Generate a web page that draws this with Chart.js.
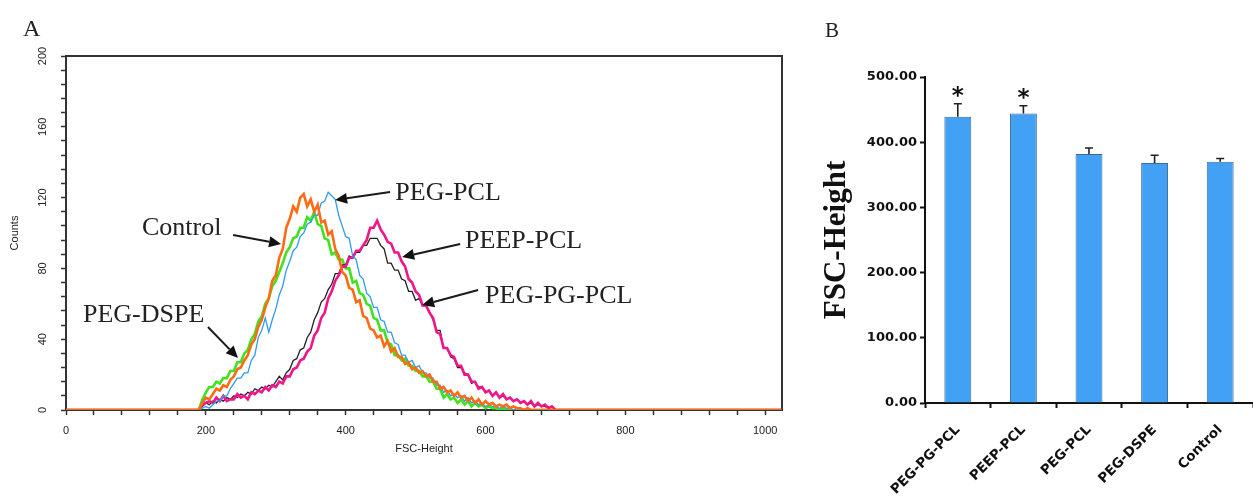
<!DOCTYPE html>
<html><head><meta charset="utf-8">
<script src="https://cdn.jsdelivr.net/npm/chart.js@4/dist/chart.umd.min.js"></script>
<style>
html,body{margin:0;padding:0;background:#fff;width:1253px;height:500px;overflow:hidden;position:relative}
#wa{position:absolute;left:0;top:0;width:800px;height:500px}
#wb{position:absolute;left:800px;top:0;width:453px;height:500px}
.pl{position:absolute;font-family:'Liberation Serif';color:#222;line-height:1}
</style></head><body>
<div id="wa"><canvas id="ca" width="800" height="500"></canvas></div>
<div id="wb"><canvas id="cb" width="453" height="500"></canvas></div>
<div class="pl" style="left:23px;top:16px;font-size:24px">A</div>
<div class="pl" style="left:825px;top:20px;font-size:21px">B</div>
<script>
// ---------- Panel A data (FSC-Height histogram) ----------
const channels = [0,190,195,200,205,210,215,220,225,230,235,240,245,250,255,260,265,270,275,280,285,290,295,300,305,310,315,320,325,330,335,340,345,350,355,360,365,370,375,380,385,390,395,400,405,410,415,420,425,430,435,440,445,450,455,460,465,470,475,480,485,490,495,500,505,510,515,520,525,530,535,540,545,550,555,560,565,570,575,580,585,590,595,600,605,610,615,620,625,630,635,640,645,650,655,660,665,670,675,680,685,690,695,700,1023];
const controlCounts = [0,
 0,4,7,6,9,12,11,14,13,17,
 19,23,24,28,31,37,40,47,51,58,
 63,73,76,86,91,103,108,115,112,120,
 122,115,119,112,116,106,107,99,101,91,
 87,78,76,69,68,61,62,53,52,46,
 45,41,42,36,39,33,35,30,30,26,
 27,23,24,21,22,19,20,16,16,12,
 13,10,11,8,10,7,8,5,7,4,
 6,3,5,3,4,2,3,2,3,1,
 2,1,1,0,1,0,0,0,0,0,
 0,0,0, 0];
const pegDspeCounts = [0,
 0,6,10,13,13,16,15,18,18,22,
 22,27,27,32,34,40,43,50,53,60,
 63,70,73,78,83,89,92,97,98,103,
 103,109,107,112,105,104,97,96,88,89,
 85,85,80,80,72,73,66,65,60,59,
 52,51,45,45,38,37,31,31,28,29,
 25,25,22,22,19,19,16,16,12,12,
 7,9,6,7,4,6,3,5,2,4,
 2,3,1,2,1,1,0,1,0,0,
 0,0,0,0,0,0,0,0,0,0,
 0,0,0, 0];
const pegPclCounts = [0,
 0,1,2,1,3,5,5,8,8,12,
 15,18,18,21,21,28,31,41,45,52,
 44,51,57,65,70,79,84,90,92,98,
 100,105,106,110,110,117,118,123,121,119,
 110,104,98,97,87,85,76,74,66,64,
 58,58,51,50,44,44,38,37,31,31,
 27,28,24,25,21,21,18,18,14,14,
 10,11,8,9,7,8,5,7,4,5,
 3,4,2,3,2,2,1,2,1,1,
 0,1,0,0,0,0,0,0,0,0,
 0,0,0, 0];
const pegPgPclCounts = [0,
 0,3,4,5,4,7,5,8,5,6,
 6,9,7,8,6,10,9,11,10,13,
 11,14,13,16,15,19,19,23,24,28,
 29,33,35,42,45,52,55,63,67,73,
 76,81,81,86,86,90,90,93,96,103,
 103,107,102,99,95,94,89,89,84,81,
 74,72,67,65,59,59,55,52,44,43,
 35,35,31,30,25,25,20,20,16,16,
 12,13,10,11,8,10,7,9,6,7,
 5,6,4,5,3,5,2,4,2,3,
 1,2,0, 0];
const peepPclCounts = [0,
 0,2,4,3,5,4,6,5,7,6,
 8,7,9,8,10,9,12,11,13,12,
 14,13,16,19,17,21,23,28,29,34,
 35,41,44,51,55,61,63,68,71,77,
 77,82,82,87,86,89,89,93,93,97,
 97,97,93,91,83,83,79,79,74,73,
 67,67,62,63,59,59,55,51,45,45,
 35,35,30,29,24,24,21,20,15,16,
 13,13,10,11,8,10,7,8,6,7,
 5,6,4,5,3,4,2,3,2,2,
 1,2,0, 0];

// annotation labels (data coordinates)
const notes = [
  {text:'PEG-PCL',    x:471,   y:118.6, from:[463.5,123.2], to:[384.8,118.6]},
  {text:'Control',    x:108.7, y:98.9,  from:[239,98.9],    to:[307.6,93.8]},
  {text:'PEEP-PCL',   x:570.8, y:91.5,  from:[563.7,93.8],  to:[480.7,86.4]},
  {text:'PEG-PG-PCL', x:599.4, y:60.5,  from:[589.4,67.8],  to:[509.3,59.3]},
  {text:'PEG-DSPE',   x:24.3,  y:49.7,  from:[203,46.9],    to:[246,29.4]}
];

// ---------- Panel B data ----------
const bCategories = ['PEG-PG-PCL','PEEP-PCL','PEG-PCL','PEG-DSPE','Control'];
const bMeans = [439, 444, 382, 368, 370];
const bErrors = [20, 12, 9, 12, 5];
const bSignif = ['*','*','','',''];

const pts = arr => channels.map((c,i)=>({x:c, y:arr[i]}));

const frameNotes = {
  id:'frameNotes',
  beforeDatasetsDraw(chart){
    const {ctx, chartArea:a} = chart;
    ctx.save();
    ctx.strokeStyle='#333'; ctx.lineWidth=2;
    ctx.beginPath(); ctx.moveTo(a.left, a.top); ctx.lineTo(a.right, a.top); ctx.lineTo(a.right, a.bottom); ctx.stroke();
    ctx.restore();
  },
  afterDatasetsDraw(chart){
    const {ctx} = chart; const xs = chart.scales.x, ys = chart.scales.y;
    ctx.save();
    ctx.font = '26px "Liberation Serif"'; ctx.textBaseline='alphabetic'; ctx.textAlign='left';
    notes.forEach(n=>{
      ctx.fillStyle='#222';
      ctx.fillText(n.text, xs.getPixelForValue(n.x), ys.getPixelForValue(n.y));
      const x0 = xs.getPixelForValue(n.from[0]), y0 = ys.getPixelForValue(n.from[1]);
      const x1 = xs.getPixelForValue(n.to[0]), y1 = ys.getPixelForValue(n.to[1]);
      const ang = Math.atan2(y1-y0, x1-x0), hl = 12, hw = 5.5;
      const bx = x1 - hl*Math.cos(ang), by = y1 - hl*Math.sin(ang);
      ctx.strokeStyle='#1a1a1a'; ctx.lineWidth=2;
      ctx.beginPath(); ctx.moveTo(x0,y0); ctx.lineTo(bx,by); ctx.stroke();
      ctx.fillStyle='#111';
      ctx.beginPath(); ctx.moveTo(x1,y1);
      ctx.lineTo(bx + hw*Math.sin(ang), by - hw*Math.cos(ang));
      ctx.lineTo(bx - hw*Math.sin(ang), by + hw*Math.cos(ang));
      ctx.closePath(); ctx.fill();
    });
    ctx.restore();
  }
};

const axFont = {family:'"Liberation Sans"', size:11};
new Chart(document.getElementById('ca'), {
  type:'line',
  data:{datasets:[
    {label:'Control', data:pts(controlCounts), borderColor:'#FF6A14', borderWidth:2.6},
    {label:'PEG-PCL', data:pts(pegPclCounts), borderColor:'#2B9CF2', borderWidth:1.3},
    {label:'PEG-PG-PCL', data:pts(pegPgPclCounts), borderColor:'#F0168A', borderWidth:2.6},
    {label:'PEEP-PCL', data:pts(peepPclCounts), borderColor:'#222222', borderWidth:1.3},
    {label:'PEG-DSPE', data:pts(pegDspeCounts), borderColor:'#3FE31C', borderWidth:2.6}
  ]},
  options:{
    responsive:false, animation:false, devicePixelRatio:1,
    layout:{padding:{top:56,right:18,left:0,bottom:0}},
    plugins:{legend:{display:false}, tooltip:{enabled:false}},
    elements:{point:{radius:0}, line:{tension:0, fill:false}},
    scales:{
      x:{type:'linear', min:0, max:1024,
        grid:{drawOnChartArea:false, tickLength:5, tickColor:'#333', tickWidth:1.5},
        border:{color:'#333', width:2},
        ticks:{stepSize:40, maxTicksLimit:40, autoSkip:false, includeBounds:false, minRotation:0, maxRotation:0, padding:9, color:'#222', font:axFont,
          callback:v => (v % 200 === 0 ? String(v) : '')},
        title:{display:true, text:'FSC-Height', color:'#222', font:axFont, padding:{top:0, bottom:44}},
        afterFit(s){ s.height = 90; }
      },
      y:{type:'linear', min:0, max:200,
        grid:{drawOnChartArea:false, tickLength:5, tickColor:'#333', tickWidth:1.5},
        border:{color:'#333', width:2},
        ticks:{stepSize:8, maxTicksLimit:40, autoSkip:false, minRotation:90, maxRotation:90, crossAlign:'center', padding:9, color:'#222', font:axFont,
          callback:v => (v % 40 === 0 ? String(v) : '')},
        title:{display:true, text:'Counts', color:'#222', font:axFont, padding:{top:8, bottom:0}},
        afterFit(s){ s.width = 66; }
      }
    }
  },
  plugins:[frameNotes]
});

const errBars = {
  id:'errBars',
  afterDatasetsDraw(chart){
    const {ctx} = chart; const ys = chart.scales.y; const meta = chart.getDatasetMeta(0);
    ctx.save();
    ctx.strokeStyle='#222'; ctx.lineWidth=1.6; ctx.fillStyle='#111';
    ctx.font='bold 23px "DejaVu Sans"'; ctx.textAlign='center'; ctx.textBaseline='alphabetic';
    meta.data.forEach((bar,i)=>{
      const top = ys.getPixelForValue(bMeans[i] + bErrors[i]);
      ctx.beginPath(); ctx.moveTo(bar.x, bar.y); ctx.lineTo(bar.x, top);
      ctx.moveTo(bar.x-4, top); ctx.lineTo(bar.x+4, top); ctx.stroke();
      if (bSignif[i]) ctx.fillText(bSignif[i], bar.x, top - 1);
    });
    ctx.restore();
  }
};

const bFont = {family:'"DejaVu Sans"', weight:'bold', size:13};
new Chart(document.getElementById('cb'), {
  type:'bar',
  data:{labels:bCategories, datasets:[{data:bMeans, backgroundColor:'#42A0F5', borderColor:'#3C6C96', borderWidth:1, barPercentage:0.41, categoryPercentage:1}]},
  options:{
    responsive:false, animation:false, devicePixelRatio:1,
    layout:{padding:{top:77,right:0,left:0,bottom:0}},
    plugins:{legend:{display:false}, tooltip:{enabled:false}},
    scales:{
      x:{grid:{offset:true, drawOnChartArea:false, tickLength:5, tickColor:'#111', tickWidth:2},
        border:{color:'#111', width:2},
        ticks:{minRotation:45, maxRotation:45, autoSkip:false, padding:14, color:'#111', font:{family:'"DejaVu Sans"', weight:'bold', size:13.5}},
        afterFit(s){ s.height = 97; }
      },
      y:{min:0, max:500,
        grid:{drawOnChartArea:false, tickLength:5, tickColor:'#111', tickWidth:2},
        border:{color:'#111', width:2},
        ticks:{stepSize:100, padding:3, color:'#111', font:bFont, callback:v => Number(v).toFixed(2)},
        title:{display:true, text:'FSC-Height', color:'#111', font:{family:'"Liberation Serif"', weight:'bold', size:31}, padding:{top:18, bottom:0}},
        afterFit(s){ s.width = 125; }
      }
    }
  },
  plugins:[errBars]
});
</script>
</body></html>
